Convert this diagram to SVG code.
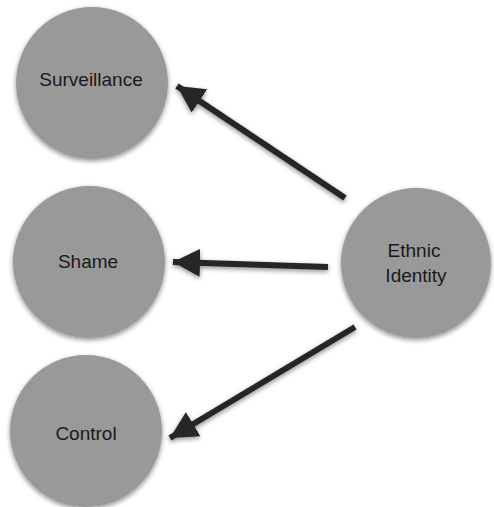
<svg xmlns="http://www.w3.org/2000/svg" width="494" height="507" viewBox="0 0 494 507">
<defs>
<filter id="sh" filterUnits="userSpaceOnUse" x="0" y="0" width="494" height="507">
<feGaussianBlur in="SourceAlpha" stdDeviation="2.5"/>
<feOffset dx="0" dy="2" result="b"/>
<feComponentTransfer><feFuncA type="linear" slope="0.45"/></feComponentTransfer>
<feMerge><feMergeNode/><feMergeNode in="SourceGraphic"/></feMerge>
</filter>
<marker id="ah" markerUnits="userSpaceOnUse" markerWidth="32" markerHeight="30" refX="27" refY="14" orient="auto">
<path d="M0,0 L27,14 L0,28 Z" fill="#262626"/>
</marker>
</defs>
<style>
.node circle{fill:#999999;filter:url(#sh)}
.node text{font-family:"Liberation Sans",Arial,sans-serif;font-size:19px;fill:#1a1a1a;text-anchor:middle}
.conn line{stroke:#262626;stroke-width:6;marker-end:url(#ah)}
</style>
<rect width="494" height="507" fill="#ffffff"/>
<g id="connectors" class="conn" filter="url(#sh)">
<line x1="345" y1="198" x2="177" y2="86"/>
<line x1="328" y1="267" x2="173" y2="262"/>
<line x1="355" y1="327" x2="170" y2="438"/>
</g>
<g id="surveillance" class="node">
<circle cx="92" cy="83" r="76"/>
<text x="91" y="86">Surveillance</text>
</g>
<g id="shame" class="node">
<circle cx="89" cy="262" r="76"/>
<text x="88" y="268">Shame</text>
</g>
<g id="control" class="node">
<circle cx="86" cy="431" r="76"/>
<text x="86" y="440">Control</text>
</g>
<g id="ethnic-identity" class="node">
<circle cx="416" cy="263" r="75"/>
<text x="414" y="257">Ethnic</text>
<text x="416" y="282">Identity</text>
</g>
</svg>
